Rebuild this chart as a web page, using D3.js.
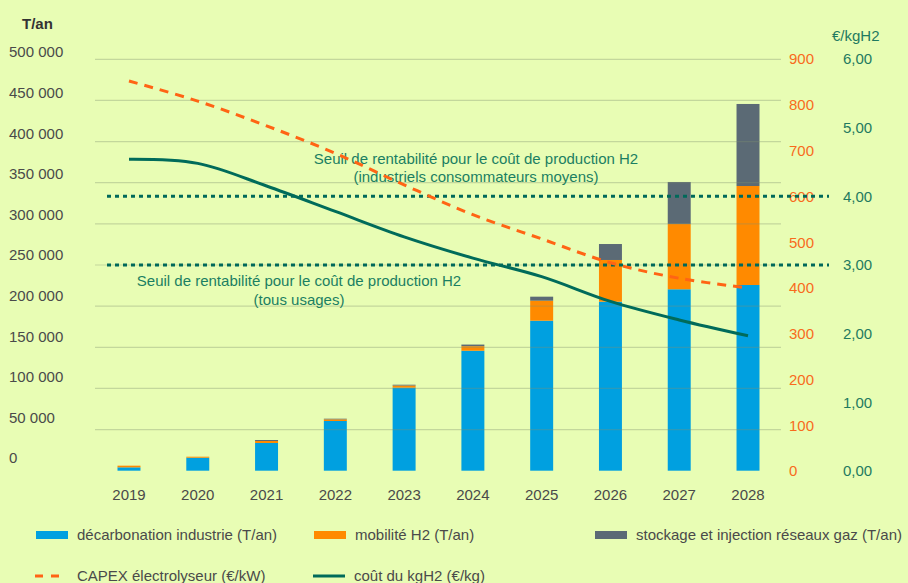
<!DOCTYPE html>
<html><head><meta charset="utf-8">
<script src="https://cdn.jsdelivr.net/npm/d3@7"></script>
<style>
html,body{margin:0;padding:0;background:#e8fdb4;}
svg{display:block;font-family:"Liberation Sans",Arial,sans-serif;}
</style></head>
<body>
<svg id="c" width="908" height="583"></svg>
<script>
const years = ["2019","2020","2021","2022","2023","2024","2025","2026","2027","2028"];
const decarbonation = [4100, 15800, 33700, 60400, 101000, 145800, 182300, 205400, 220500, 225700];
const mobilite = [2000, 1200, 2400, 2000, 2500, 5500, 24300, 50700, 79400, 120300];
const stockage = [0, 0, 1200, 800, 1000, 2000, 4900, 19400, 51000, 99700];
const capex = [852, 808, 754, 694, 625, 560, 507, 455, 421, 400];
const cout = [4.54, 4.48, 4.15, 3.78, 3.41, 3.10, 2.83, 2.47, 2.20, 1.97];
const leftTicks = [0,50000,100000,150000,200000,250000,300000,350000,400000,450000,500000];
const orangeTicks = [0,100,200,300,400,500,600,700,800,900];
const greenTicks = [0,1,2,3,4,5,6];
const seuils = [4, 3];
const seriesNames = ["décarbonation industrie (T/an)","mobilité H2 (T/an)","stockage et injection réseaux gaz (T/an)"];
const lineNames = ["CAPEX électrolyseur (€/kW)","coût du kgH2 (€/kg)"];

const colors = {bg:"#e8fdb4", blue:"#00a0e0", orange:"#ff8a00", grey:"#5b6a75",
  capex:"#ff6414", cout:"#006b5a", dotted:"#00695a", annot:"#1b7f62",
  txt:"#4a4a4a", otxt:"#f86b1c", gtxt:"#1f7a60", grid:"#7f8f70"};

const svg = d3.select("#c");
svg.append("rect").attr("width",908).attr("height",583).attr("fill",colors.bg);

const x = d3.scaleBand().domain(years).range([94.6, 782.4]).paddingInner(0.666).paddingOuter(0.333);
const yL = d3.scaleLinear().domain([0,500000]).range([470.7, 59.3]);
const yLabel = d3.scaleLinear().domain([0,500000]).range([458, 52]);
const yO = d3.scaleLinear().domain([0,900]).range([471, 59]);
const yG = d3.scaleLinear().domain([0,6]).range([471, 59]);

// stacked bars
const rows = years.map((y,i)=>({year:y, a:decarbonation[i], b:mobilite[i], c:stockage[i]}));
const stack = d3.stack().keys(["a","b","c"])(rows);
const fills = [colors.blue, colors.orange, colors.grey];
svg.append("g").selectAll("g").data(stack).join("g").attr("fill",(d,i)=>fills[i])
  .selectAll("rect").data(d=>d).join("rect")
  .attr("x",d=>x(d.data.year)).attr("width",x.bandwidth())
  .attr("y",d=>yL(d[1])).attr("height",d=>Math.max(0,yL(d[0])-yL(d[1])));

// gridlines
svg.append("g").selectAll("line").data(leftTicks.filter(v=>v>0)).join("line")
  .attr("x1",95).attr("x2",781).attr("y1",d=>yL(d)).attr("y2",d=>yL(d))
  .attr("stroke",colors.grid).attr("stroke-opacity",0.35).attr("stroke-width",1.2);

// left labels
svg.append("g").selectAll("text").data(leftTicks).join("text")
  .attr("x",9).attr("y",d=>yLabel(d)).attr("dy","0.36em")
  .attr("font-size",15).attr("fill",colors.txt)
  .text(d=>d===0?"0":d3.format(",")(d).replace(/,/g," "));
svg.append("text").attr("x",22).attr("y",29).attr("font-size",15).attr("font-weight","bold")
  .attr("fill","#333").text("T/an");

// right labels
svg.append("g").selectAll("text").data(orangeTicks).join("text")
  .attr("x",789).attr("y",d=>yO(d)).attr("dy","0.36em")
  .attr("font-size",15).attr("fill",colors.otxt).text(d=>d);
svg.append("g").selectAll("text").data(greenTicks).join("text")
  .attr("x",843).attr("y",d=>yG(d)).attr("dy","0.36em")
  .attr("font-size",15).attr("fill",colors.gtxt).text(d=>d3.format(".2f")(d).replace(".",","));
svg.append("text").attr("x",832).attr("y",41).attr("font-size",15).attr("fill",colors.gtxt).text("€/kgH2");

// x labels
svg.append("g").selectAll("text").data(years).join("text")
  .attr("x",d=>x(d)+x.bandwidth()/2).attr("y",500).attr("text-anchor","middle")
  .attr("font-size",15).attr("fill",colors.txt).text(d=>d);

// dotted thresholds
svg.append("g").selectAll("line").data(seuils).join("line")
  .attr("x1",107).attr("x2",829).attr("y1",d=>yG(d)).attr("y2",d=>yG(d))
  .attr("stroke",colors.dotted).attr("stroke-width",3).attr("stroke-dasharray","4,4");

// annotations
const ann = svg.append("g").attr("font-size",15).attr("fill",colors.annot).attr("text-anchor","middle");
ann.append("text").attr("x",476).attr("y",164).text("Seuil de rentabilité pour le coût de production H2");
ann.append("text").attr("x",476).attr("y",182).text("(industriels consommateurs moyens)");
ann.append("text").attr("x",299).attr("y",286).text("Seuil de rentabilité pour le coût de production H2");
ann.append("text").attr("x",299).attr("y",305).text("(tous usages)");

// lines
const cx = d=>x(d)+x.bandwidth()/2;
const curve = d3.curveCatmullRom.alpha(0.5);
svg.append("path").datum(years.map((y,i)=>[cx(y), yO(capex[i])]))
  .attr("d",d3.line().curve(curve)).attr("fill","none")
  .attr("stroke",colors.capex).attr("stroke-width",3).attr("stroke-dasharray","9,7");
svg.append("path").datum(years.map((y,i)=>[cx(y), yG(cout[i])]))
  .attr("d",d3.line().curve(curve)).attr("fill","none")
  .attr("stroke",colors.cout).attr("stroke-width",3);

// legend
const lg = svg.append("g").attr("font-size",15).attr("fill",colors.txt);
const lx = [36, 314, 595];
seriesNames.forEach((n,i)=>{
  lg.append("rect").attr("x",lx[i]).attr("y",531).attr("width",32).attr("height",8).attr("fill",fills[i]);
  lg.append("text").attr("x",lx[i]+41).attr("y",539.5).text(n);
});
lg.append("line").attr("x1",35).attr("x2",59).attr("y1",576).attr("y2",576)
  .attr("stroke",colors.capex).attr("stroke-width",3).attr("stroke-dasharray","8,8");
lg.append("text").attr("x",77).attr("y",581).text(lineNames[0]);
lg.append("line").attr("x1",313).attr("x2",345).attr("y1",576).attr("y2",576)
  .attr("stroke",colors.cout).attr("stroke-width",3);
lg.append("text").attr("x",354).attr("y",581).text(lineNames[1]);
</script>
</body></html>
